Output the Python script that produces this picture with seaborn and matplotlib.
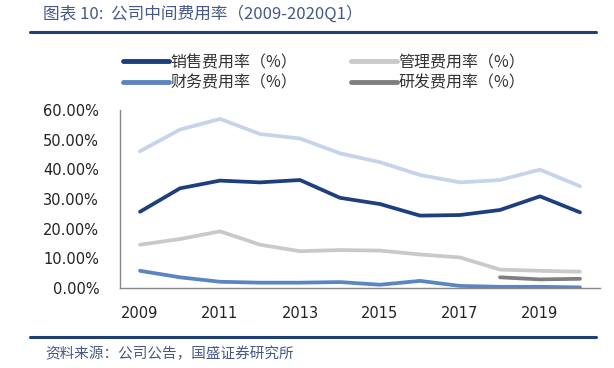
import numpy as np
import pandas as pd
import matplotlib.pyplot as plt
import matplotlib.ticker as mtick
from matplotlib.lines import Line2D
import seaborn as sns

years = ["2009", "2010", "2011", "2012", "2013", "2014", "2015", "2016", "2017", "2018", "2019", "2020Q1"]
tick_labels = ["2009", "", "2011", "", "2013", "", "2015", "", "2017", "", "2019", ""]

gross_margin = [46.1, 53.4, 57.0, 51.9, 50.4, 45.4, 42.4, 38.1, 35.6, 36.4, 39.9, 34.3]
sales_rate = [25.7, 33.6, 36.2, 35.6, 36.4, 30.4, 28.3, 24.4, 24.6, 26.3, 30.9, 25.5]
admin_rate = [14.6, 16.5, 19.1, 14.6, 12.4, 12.8, 12.6, 11.3, 10.3, 6.2, 5.8, 5.5]
finance_rate = [5.8, 3.6, 2.1, 1.8, 1.8, 2.0, 1.1, 2.4, 0.7, 0.4, 0.4, 0.2]
rd_rate = [np.nan] * 9 + [3.6, 2.9, 3.1]

series = {
    "毛利率（%）": gross_margin,
    "销售费用率（%）": sales_rate,
    "管理费用率（%）": admin_rate,
    "财务费用率（%）": finance_rate,
    "研发费用率（%）": rd_rate,
}
colors = {
    "毛利率（%）": "#c6d3e9",
    "销售费用率（%）": "#1d3f7e",
    "管理费用率（%）": "#c9c9c9",
    "财务费用率（%）": "#5b85c2",
    "研发费用率（%）": "#7f7f7f",
}

df = pd.DataFrame(series)
df["pos"] = np.arange(len(years))
long_df = df.melt(id_vars="pos", var_name="series", value_name="rate").dropna()
long_df["rate"] = long_df["rate"] / 100

sns.set_style("white")
plt.rcParams["font.family"] = ["Noto Sans CJK SC", "DejaVu Sans"]

fig = plt.figure(figsize=(6.14, 3.68), dpi=100)
W, H = 614, 368
ax = fig.add_axes([120 / W, 1 - 288 / H, 480 / W, 178 / H])

sns.lineplot(data=long_df, x="pos", y="rate", hue="series", palette=colors,
             hue_order=list(series.keys()), linewidth=2.7, legend=False, ax=ax)

ax.set_xlim(-0.5, len(years) - 0.5)
ax.set_ylim(0, 0.6)
ax.yaxis.set_major_locator(mtick.MultipleLocator(0.1))
ax.yaxis.set_major_formatter(mtick.PercentFormatter(1.0, decimals=2))
ax.set_xticks(np.arange(len(years)))
ax.set_xticklabels(tick_labels)
ax.set_xticks(np.arange(len(years) + 1) - 0.5, minor=True)
ax.tick_params(axis="x", which="major", length=0, pad=13, labelsize=10.5, labelcolor="#222222")
ax.tick_params(axis="x", which="minor", direction="in", length=5, width=0.8, color="#777777")
ax.tick_params(axis="y", direction="out", length=6, width=0.8, color="#777777", pad=9,
               labelsize=10.5, labelcolor="#222222")
for lab in ax.get_xticklabels() + ax.get_yticklabels():
    lab.set_fontfamily("DejaVu Sans")
ax.set_xlabel("")
ax.set_ylabel("")
for side in ["top", "right"]:
    ax.spines[side].set_visible(False)
for side in ["left", "bottom"]:
    ax.spines[side].set_color("#888888")
    ax.spines[side].set_linewidth(1.0)

# legend (gross margin line is not in the original legend)
legend_names = ["销售费用率（%）", "财务费用率（%）", "管理费用率（%）", "研发费用率（%）"]
handles = [Line2D([0], [0], color=colors[n], lw=3.5) for n in legend_names]
fig.legend(handles, legend_names, loc="upper left", bbox_to_anchor=(123 / W, 1 - 54 / H),
           ncol=2, frameon=False, fontsize=11.5, handlelength=2.9, handletextpad=0.05,
           columnspacing=3.4, labelspacing=0.2, labelcolor="#333333",
           borderpad=0, borderaxespad=0)

# header / footer
title_color = "#465a85"
fig.text(43 / W, 1 - 14 / H, "图表 10:  公司中间费用率（2009-2020Q1）", fontsize=12,
         style="italic", color=title_color, va="center", ha="left")
fig.add_artist(Line2D([30 / W, 596 / W], [1 - 32 / H, 1 - 32 / H], color="#1f3f75", lw=2.2))
fig.add_artist(Line2D([30 / W, 596 / W], [1 - 337 / H, 1 - 337 / H], color="#1f3f75", lw=2.2))
fig.text(45 / W, 1 - 354 / H, "资料来源：公司公告，国盛证券研究所", fontsize=10.5,
         style="italic", color=title_color, va="center", ha="left")

fig.savefig("out.png", dpi=100)
